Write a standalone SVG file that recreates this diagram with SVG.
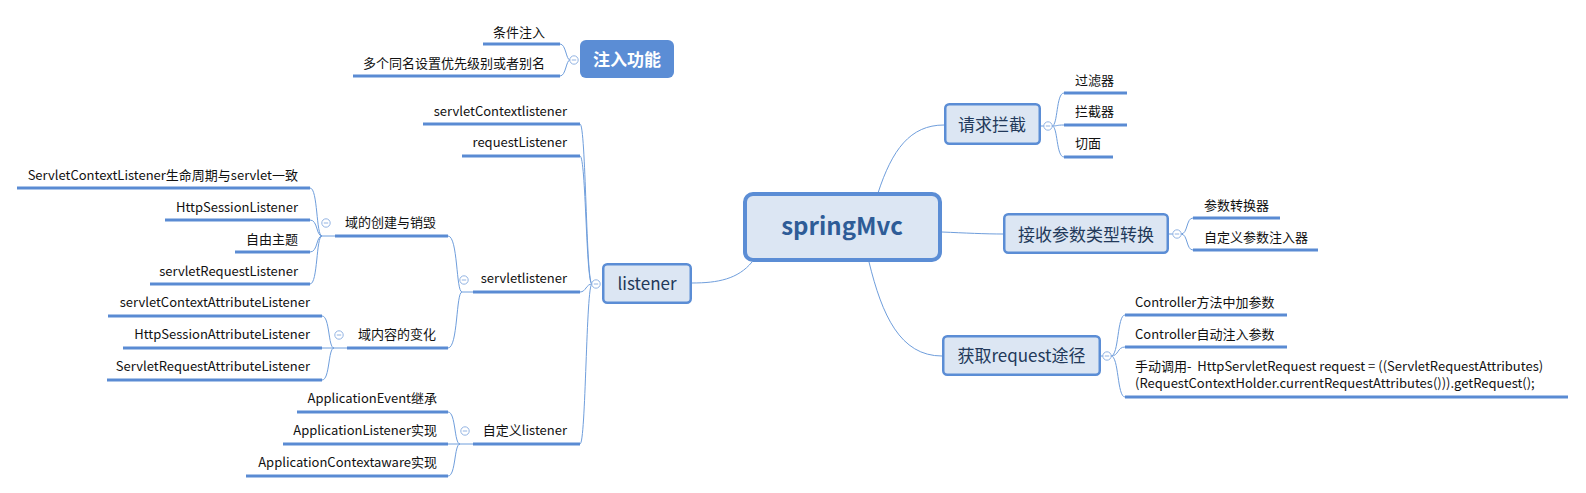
<svg xmlns="http://www.w3.org/2000/svg" width="1586" height="493" viewBox="0 0 1586 493">
<style>
text{font-family:"Noto Sans CJK SC","Noto Sans",sans-serif;font-size:13px;fill:#111}
.r{text-anchor:end}
.m{text-anchor:middle}
.ul{stroke:#5A8BD3;stroke-width:3;fill:none}
.c{stroke:#6F9EDC;stroke-width:1;fill:none}
.box{fill:#DCE6F3;stroke:#5B8DD5;stroke-width:2.5}
.bt{font-size:17px;fill:#22395A}
.tog{fill:#fff;stroke:#93B4E3;stroke-width:1}
.tm{stroke:#93B4E3;stroke-width:1}
</style>
<defs>
<g id="toggle"><circle r="4.2" class="tog"/><line x1="-2.2" y1="0" x2="2.2" y2="0" class="tm"/></g>
</defs>
<rect width="1586" height="493" fill="#fff"/>

<g id="connectors">
<!-- root to main topics -->
<path class="c" d="M752,262 C738,279 718,283 692,283"/>
<path class="c" d="M878,193 C892,150 910,125 944,125"/>
<path class="c" d="M942,232 C965,233 985,234 1003,234"/>
<path class="c" d="M869,262 C882,315 900,356 942,356"/>
<!-- 注入功能 bracket -->
<path class="c" d="M570,60 C566,60 566,44 560,44"/>
<path class="c" d="M570,60 C566,60 566,76 560,76"/>
<!-- listener bracket -->
<path class="c" d="M592,284 C586,284 586,124 580,124"/>
<path class="c" d="M592,284 C586,284 586,156 580,156"/>
<path class="c" d="M592,284 C586,284 586,292 580,292"/>
<path class="c" d="M592,284 C586,284 586,444 580,444"/>
<!-- servletlistener bracket -->
<path class="c" d="M473,292 L462,292"/>
<path class="c" d="M462,292 C456,292 458,236 448,236"/>
<path class="c" d="M462,292 C456,292 458,348 448,348"/>
<!-- 域的创建与销毁 bracket -->
<path class="c" d="M335,236 L322,236"/>
<path class="c" d="M322,236 C316,236 318,188 310,188"/>
<path class="c" d="M322,236 C316,236 318,220 310,220"/>
<path class="c" d="M322,236 C316,236 318,252 310,252"/>
<path class="c" d="M322,236 C316,236 318,284 310,284"/>
<!-- 域内容的变化 bracket -->
<path class="c" d="M347,348 L334,348"/>
<path class="c" d="M334,348 C328,348 330,316 322,316"/>
<path class="c" d="M334,348 L322,348"/>
<path class="c" d="M334,348 C328,348 330,380 322,380"/>
<!-- 自定义listener bracket -->
<path class="c" d="M473,444 L460,444"/>
<path class="c" d="M460,444 C454,444 456,412 448,412"/>
<path class="c" d="M460,444 L448,444"/>
<path class="c" d="M460,444 C454,444 456,476 448,476"/>
<!-- 请求拦截 bracket -->
<path class="c" d="M1041,126 L1044,126"/>
<path class="c" d="M1052,126 C1058,126 1056,93 1064,93"/>
<path class="c" d="M1052,126 C1058,126 1056,125 1064,125"/>
<path class="c" d="M1052,126 C1058,126 1056,157 1064,157"/>
<!-- 接收参数类型转换 bracket -->
<path class="c" d="M1169,234 L1173,234"/>
<path class="c" d="M1181,234 C1188,234 1186,218 1193,218"/>
<path class="c" d="M1181,234 C1188,234 1186,250 1193,250"/>
<!-- 获取request途径 bracket -->
<path class="c" d="M1101,356 L1103,356"/>
<path class="c" d="M1111,356 C1119,356 1117,315 1125,315"/>
<path class="c" d="M1111,356 C1119,356 1117,347 1125,347"/>
<path class="c" d="M1111,356 C1119,356 1117,397 1125,397"/>
</g>

<g id="root">
<rect x="745" y="194" width="195" height="66" rx="8" fill="#DCE6F3" stroke="#5B8DD5" stroke-width="4"/>
<text x="842" y="235" class="m" style="font-size:24px;font-weight:bold;fill:#2E5C97">springMvc</text>
</g>

<g id="inject">
<rect x="580" y="40" width="94" height="38" rx="6" fill="#5B8DD5"/>
<text x="627" y="66" class="m" style="font-size:17px;font-weight:bold;fill:#fff">注入功能</text>
<use href="#toggle" x="574" y="60"/>
</g>
<g id="inject-cond"><text x="545" y="37" class="r">条件注入</text><path class="ul" d="M483,44 H560"/></g>
<g id="inject-alias"><text x="545" y="68" class="r">多个同名设置优先级别或者别名</text><path class="ul" d="M353,76 H560"/></g>

<g id="listener">
<rect x="603.25" y="264.25" width="87.5" height="38.5" rx="4" class="box"/>
<text x="647" y="290" class="m bt">listener</text>
<use href="#toggle" x="596" y="284"/>
</g>
<g id="servletContextlistener"><text x="567" y="116" class="r">servletContextlistener</text><path class="ul" d="M423,124 H580"/></g>
<g id="requestListener"><text x="567" y="147" class="r">requestListener</text><path class="ul" d="M462,156 H580"/></g>
<g id="servletlistener"><text x="567" y="283" class="r">servletlistener</text><path class="ul" d="M473,292 H580"/><use href="#toggle" x="464" y="280"/></g>
<g id="custom-listener"><text x="567" y="435" class="r">自定义listener</text><path class="ul" d="M473,444 H580"/><use href="#toggle" x="465" y="431"/></g>

<g id="domain-lifecycle"><text x="436" y="227" class="r">域的创建与销毁</text><path class="ul" d="M335,236 H448"/><use href="#toggle" x="326" y="223"/></g>
<g id="domain-content"><text x="436" y="339" class="r">域内容的变化</text><path class="ul" d="M347,348 H448"/><use href="#toggle" x="339" y="335"/></g>

<g id="scl"><text x="298" y="180" class="r">ServletContextListener生命周期与servlet一致</text><path class="ul" d="M17,188 H310"/></g>
<g id="hsl"><text x="298" y="212" class="r">HttpSessionListener</text><path class="ul" d="M165,220 H310"/></g>
<g id="free"><text x="298" y="244" class="r">自由主题</text><path class="ul" d="M235,252 H310"/></g>
<g id="srl"><text x="298" y="276" class="r">servletRequestListener</text><path class="ul" d="M150,284 H310"/></g>

<g id="scal"><text x="310" y="307" class="r">servletContextAttributeListener</text><path class="ul" d="M108,316 H322"/></g>
<g id="hsal"><text x="310" y="339" class="r">HttpSessionAttributeListener</text><path class="ul" d="M123,348 H322"/></g>
<g id="sral"><text x="310" y="371" class="r">ServletRequestAttributeListener</text><path class="ul" d="M107,380 H322"/></g>

<g id="app-event"><text x="437" y="403" class="r">ApplicationEvent继承</text><path class="ul" d="M297,412 H448"/></g>
<g id="app-listener"><text x="437" y="435" class="r">ApplicationListener实现</text><path class="ul" d="M283,444 H448"/></g>
<g id="app-aware"><text x="437" y="467" class="r">ApplicationContextaware实现</text><path class="ul" d="M246,476 H448"/></g>

<g id="intercept">
<rect x="945.25" y="104.25" width="94.5" height="39.5" rx="4" class="box"/>
<text x="992" y="131" class="m bt">请求拦截</text>
<use href="#toggle" x="1048" y="126"/>
</g>
<g id="filter"><text x="1075" y="85">过滤器</text><path class="ul" d="M1064,93 H1127"/></g>
<g id="interceptor"><text x="1075" y="116">拦截器</text><path class="ul" d="M1064,125 H1127"/></g>
<g id="aspect"><text x="1075" y="148">切面</text><path class="ul" d="M1064,157 H1113"/></g>

<g id="param-convert">
<rect x="1004.25" y="214.25" width="163.5" height="38.5" rx="4" class="box"/>
<text x="1086" y="241" class="m bt">接收参数类型转换</text>
<use href="#toggle" x="1177" y="234"/>
</g>
<g id="converter"><text x="1204" y="210">参数转换器</text><path class="ul" d="M1193,218 H1280"/></g>
<g id="custom-injector"><text x="1204" y="242">自定义参数注入器</text><path class="ul" d="M1193,250 H1318"/></g>

<g id="get-request">
<rect x="943.25" y="336.25" width="156.5" height="38.5" rx="4" class="box"/>
<text x="1021.5" y="362" class="m bt">获取request途径</text>
<use href="#toggle" x="1107" y="356"/>
</g>
<g id="ctrl-param"><text x="1135" y="307">Controller方法中加参数</text><path class="ul" d="M1125,315 H1287"/></g>
<g id="ctrl-inject"><text x="1135" y="339">Controller自动注入参数</text><path class="ul" d="M1125,347 H1287"/></g>
<g id="manual">
<text x="1135" y="371" xml:space="preserve">手动调用-  HttpServletRequest request = ((ServletRequestAttributes)</text>
<text x="1135" y="388">(RequestContextHolder.currentRequestAttributes())).getRequest();</text>
<path class="ul" d="M1125,397 H1568"/>
</g>
</svg>
